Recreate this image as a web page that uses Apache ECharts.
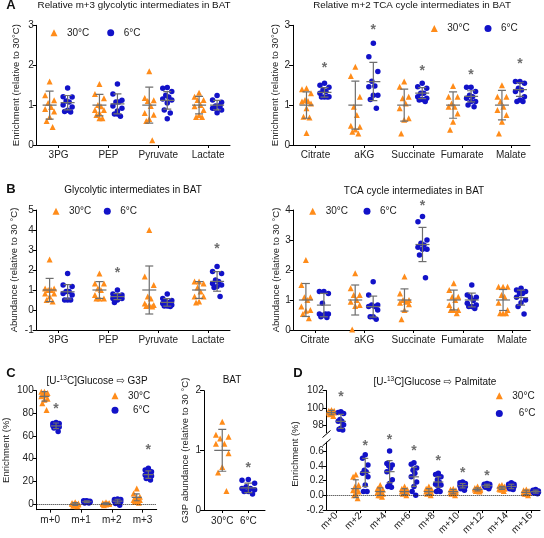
<!DOCTYPE html>
<html><head><meta charset="utf-8">
<script src="https://cdn.jsdelivr.net/npm/echarts@6/dist/echarts.min.js"></script>
<style>html,body{margin:0;padding:0;background:#fff}#c{width:544px;height:538px}</style>
</head><body><div id="c"></div>
<script>
// ---------------- DATA ----------------
const legWarm = '30°C', legCold = '6°C';

const catsA1 = ['3PG','PEP','Pyruvate','Lactate'];
const a1Warm = [
 [1.59,1.25,1.12,1.05,0.95,0.90,0.84,0.70,0.60,0.45],
 [1.53,1.28,1.17,1.00,0.97,0.88,0.88,0.80,0.75,0.67,0.67],
 [1.85,1.18,1.12,1.10,0.98,0.80,0.76,0.65,0.60,0.12],
 [1.31,1.21,1.13,1.13,1.00,0.97,0.88,0.75,0.70,0.70]
];
const a1Cold = [
 [1.43,1.21,1.20,1.10,1.08,1.00,0.95,0.87,0.84,0.83],
 [1.53,1.28,1.12,1.08,1.08,0.98,0.92,0.85,0.78,0.72,0.78],
 [1.44,1.42,1.34,1.25,1.20,1.15,1.13,1.05,0.88,0.80,0.66],
 [1.24,1.13,1.07,0.98,0.98,0.92,0.88,0.81,0.92,0.98]
];
const a1MeanW = [1,1,1,1], a1SdW = [0.35,0.27,0.45,0.22];
const a1MeanC = [1.06,1.03,1.12,1.0], a1SdC = [0.18,0.25,0.22,0.12];
const a1Star = [null,null,null,null];

const catsA2 = ['Citrate','aKG','Succinate','Fumarate','Malate'];
const a2Warm = [
 [1.42,1.40,1.30,1.13,1.10,1.09,1.04,0.92,0.71,0.69,0.30],
 [1.96,1.73,1.21,0.96,0.75,0.48,0.46,0.39,0.33,0.29],
 [1.59,1.46,1.21,1.17,1.04,0.92,0.67,0.63,0.29],
 [1.48,1.21,1.21,1.04,0.96,0.96,0.79,0.58,0.38],
 [1.50,1.21,1.21,1.09,0.96,0.88,0.75,0.58,0.29]
];
const a2Cold = [
 [1.55,1.50,1.45,1.38,1.34,1.30,1.21,1.20,1.20,1.20],
 [2.55,2.21,1.84,1.60,1.48,1.46,1.25,1.25,1.14,0.92],
 [1.55,1.46,1.42,1.30,1.30,1.21,1.17,1.14,1.13,1.09],
 [1.45,1.45,1.34,1.25,1.21,1.17,1.09,1.09,1.00,0.96],
 [1.59,1.59,1.55,1.42,1.38,1.34,1.21,1.13,1.09,1.09]
];
const a2MeanW = [1,1,1,1,1], a2SdW = [0.33,0.60,0.40,0.33,0.37];
const a2MeanC = [1.32,1.59,1.30,1.22,1.39], a2SdC = [0.12,0.48,0.14,0.14,0.17];
const a2Star = [2.0,2.95,1.92,1.82,2.09];

const catsB1 = ['3PG','PEP','Pyruvate','Lactate'];
const b1Warm = [
 [2.53,1.08,1.08,1.00,1.00,0.83,0.83,0.67,0.50,0.42],
 [1.83,1.33,1.33,1.08,1.00,0.75,0.58,0.58,0.58],
 [4.00,1.67,1.25,0.67,0.58,0.33,0.25,0.25,0.20,0.17],
 [1.42,1.42,1.33,1.13,0.92,0.67,0.67,0.42,0.37]
];
const b1Cold = [
 [1.83,1.25,1.17,0.92,0.92,0.83,0.75,0.50,0.50,0.50],
 [1.00,0.80,0.75,0.70,0.67,0.58,0.58,0.50,0.37],
 [0.80,0.58,0.47,0.42,0.37,0.33,0.25,0.20,0.20,0.17],
 [2.17,1.92,1.83,1.50,1.42,1.33,1.25,1.17,1.13,0.67]
];
const b1MeanW = [1,1,1,1], b1SdW = [0.58,0.42,1.2,0.42];
const b1MeanC = [0.91,0.67,0.38,1.43], b1SdC = [0.36,0.15,0.19,0.49];
const b1Star = [null,2.0,null,3.17];

const catsB2 = ['Citrate','aKG','Succinate','Fumarate','Malate'];
const b2Warm = [
 [2.33,1.50,1.09,1.09,1.00,0.78,0.67,0.64,0.53,0.39],
 [1.89,1.39,1.17,1.17,1.00,0.94,0.83,0.80,0.02],
 [1.78,1.22,1.00,1.00,0.94,0.91,0.86,0.67,0.36],
 [1.56,1.33,1.11,1.11,1.00,0.83,0.67,0.67,0.67,0.56],
 [1.44,1.44,1.44,1.17,1.11,0.91,0.67,0.56,0.56,0.56]
];
const b2Cold = [
 [1.28,1.28,1.22,0.89,0.53,0.53,0.53,0.50,0.44,0.42],
 [1.61,1.17,0.83,0.83,0.78,0.78,0.67,0.44,0.44,0.36],
 [3.78,3.61,3.00,2.89,2.83,2.76,2.69,2.69,2.50,1.74],
 [1.50,1.17,1.09,1.09,0.98,0.89,0.83,0.78,0.78,0.72],
 [1.39,1.33,1.28,1.22,1.22,1.09,1.00,0.91,0.78,0.53]
];
const b2MeanW = [1,1,1,1,1], b2SdW = [0.55,0.50,0.37,0.33,0.35];
const b2MeanC = [0.83,0.78,2.85,1.0,1.08], b2SdC = [0.39,0.35,0.57,0.23,0.25];
const b2Star = [null,null,4.24,null,null];

const catsC1 = ['m+0','m+1','m+2','m+3'];
const c1Warm = [
 [99,99,98,97,96,95,93,92,89,83],
 [1.5,1,0.5,0.5,0,0,-0.5,-1,-1.5,-2],
 [1.5,1,1,0.5,0.5,0,0,-0.5,-1,0],
 [13.8,9.4,6.5,5,3.5,3.5,3.5,3,2,1.2]
];
const c1Cold = [
 [72,71,71,70.5,70,69,68,68,67,64],
 [3,3,2.5,2.5,2,2,1.5,1.5,1,1],
 [4.5,4,4,3.5,3,2.5,2,1.5,0.5,-1],
 [31.5,30,28.5,28.5,27,25.6,24.7,24.7,22.6,21.2]
];
const c1MeanW = [95,0,0.3,5.9], c1SdW = [4.2,1.2,0.8,3];
const c1MeanC = [69,2,2.5,26], c1SdC = [2.5,0.7,1.7,3.3];
const c1Star = [86,null,null,50];
const c1TickVals = [0,20,40,60,80,100];

const catsC2 = ['30°C','6°C'];
const c2Warm = [[1.48,1.26,1.23,1.20,1.11,1.11,0.95,0.72,0.63,0.32],[]];
const c2Cold = [[],[0.51,0.50,0.45,0.39,0.36,0.36,0.34,0.31,0.31,0.27]];
const c2MeanW = [1.0,null], c2SdW = [0.35,null];
const c2MeanC = [null,0.37], c2SdC = [null,0.08];
const c2Star = [null,0.75];

const catsD = ['m+0','m+2','m+4','m+6','m+8','m+10','m+12','m+14','m+16'];
const dWarm = [
 [99.8,99.7,99.7,99.6,99.6,99.5,99.5,99.4,99.3,99.1],
 [0.28,0.25,0.14,0.12,0.09,0.07,0.05,0.02,0.0,-0.04],
 [0.14,0.09,0.08,0.07,0.05,0.04,0.02,0.0,0.0,-0.02],
 [0.12,0.09,0.08,0.07,0.06,0.05,0.04,0.03,0.02,0.0],
 [0.12,0.09,0.08,0.07,0.06,0.05,0.03,0.03,0.02,0.0],
 [0.09,0.08,0.07,0.05,0.05,0.04,0.04,0.03,0.02,0.0],
 [0.12,0.10,0.09,0.09,0.08,0.08,0.07,0.06,0.06,0.05],
 [0.14,0.13,0.12,0.12,0.11,0.09,0.09,0.08,0.08,0.06],
 [0.08,0.07,0.06,0.05,0.05,0.04,0.03,0.02,0.02,0.0]
];
const dCold = [
 [99.6,99.5,99.4,98.7,98.5,98.5,98.1,97.7,97.6,97.5],
 [0.55,0.50,0.41,0.34,0.32,0.30,0.25,0.14,0.05,0.05],
 [0.60,0.43,0.41,0.40,0.37,0.32,0.21,0.16,0.12,0.11],
 [0.44,0.42,0.37,0.34,0.30,0.25,0.18,0.12,0.05,0.0],
 [0.30,0.28,0.25,0.21,0.18,0.15,0.14,0.12,0.05,0.05],
 [0.18,0.17,0.16,0.15,0.14,0.13,0.12,0.12,0.09,0.07],
 [0.16,0.15,0.15,0.14,0.13,0.13,0.12,0.12,0.11,0.09],
 [0.17,0.15,0.15,0.14,0.13,0.12,0.12,0.09,0.09,0.08],
 [0.08,0.07,0.06,0.06,0.05,0.05,0.04,0.03,0.03,0.02]
];
const dMeanW = [99.5,0.09,0.05,0.05,0.05,0.05,0.08,0.1,0.04], dSdW = [0.25,0.12,0.05,0.04,0.04,0.03,0.02,0.02,0.03];
const dMeanC = [98.5,0.31,0.32,0.25,0.18,0.13,0.13,0.12,0.05], dSdC = [0.8,0.19,0.15,0.13,0.07,0.03,0.02,0.03,0.02];
const dStar = [101.6,0.71,0.79,0.64,0.5,0.34,0.3,null,null];
const dUpperTicks = [98,100,102];

// ---------------- STYLE / BUILD ----------------
const ORANGE = '#FF8C1A', BLUE = '#1212C8', GREY = '#6E6E6E';
const FONT = '"Liberation Sans", Arial, "DejaVu Sans", sans-serif';
const JIT = [0,-4.5,4.5,-1.5,1.5,-4.5,4.5,0,-3,3,0];

const option = {animation:false, backgroundColor:'#fff', textStyle:{fontFamily:FONT},
  title:[], legend:[], grid:[], xAxis:[], yAxis:[], series:[], graphic:[]};

function addPanel(c){
  const gi = option.grid.length;
  option.grid.push({left:c.box[0], top:c.box[1], width:c.box[2], height:c.box[3]});
  const idx = c.cats.map((_,i)=>i);
  option.xAxis.push({type:'value', gridIndex:gi, min:c.xr[0], max:c.xr[1], show:c.showX!==false,
    axisLine:{show:true,onZero:false,lineStyle:{color:'#000',width:1}},
    axisTick:{show:true,customValues:idx,length:3,lineStyle:{color:'#000'}},
    axisLabel:{customValues:idx, formatter:v=>c.cats[Math.round(v)], fontSize:10, color:'#222',
      margin:c.xMargin!=null?c.xMargin:5, rotate:c.rotate||0},
    splitLine:{show:false}});
  const ya = {type:'value', gridIndex:gi, min:c.yr[0], max:c.yr[1],
    axisLine:{show:true,onZero:false,lineStyle:{color:'#000',width:1}},
    axisTick:{show:true,length:4,lineStyle:{color:'#000'}},
    axisLabel:{fontSize:10,color:'#222',margin:3, formatter:c.yFmt||(v=>String(v))},
    splitLine:{show:false}};
  if (c.yInt!=null) ya.interval = c.yInt;
  if (c.yTicks){ ya.axisTick.customValues = c.yTicks; ya.axisLabel.customValues = c.yTicks; }
  if (c.yName){ ya.name=c.yName; ya.nameLocation='middle'; ya.nameGap=c.nameGap;
    ya.nameTextStyle={fontSize:9.5,color:'#222'}; }
  option.yAxis.push(ya);

  const groups = [
    {name:legWarm, sym:'triangle', col:ORANGE, vals:c.warm, mean:c.meanW, sd:c.sdW, off:c.offW, size:6},
    {name:legCold, sym:'circle', col:BLUE, vals:c.cold, mean:c.meanC, sd:c.sdC, off:c.offC, size:5.5}
  ];
  groups.forEach((g,k)=>{
    const data=[];
    g.vals.forEach((arr,ci)=>arr.forEach((v,j)=>data.push({value:[ci,v],
      symbolOffset:[g.off + JIT[j%JIT.length]*c.js, 0]})));
    const s = {type:'scatter', name:g.name, xAxisIndex:gi, yAxisIndex:gi, symbol:g.sym, symbolSize:g.size,
      itemStyle:{color:g.col, opacity:1}, data, clip:true, z:2, silent:true};
    if (k===0 && c.zero){ s.markLine={silent:true, symbol:'none', label:{show:false},
      lineStyle:{type:'dotted',color:'#222',width:1}, data:[{yAxis:0}]}; }
    option.series.push(s);
    const ed = g.mean.map((m,ci)=>m==null?null:[ci,m,g.sd[ci]]).filter(Boolean);
    const off=g.off, capW=c.cap, mw=c.meanW2;
    option.series.push({type:'custom', xAxisIndex:gi, yAxisIndex:gi, clip:true, z:5, silent:true,
      data:ed, renderItem:(p,api)=>{
        const x=api.value(0), m=api.value(1), s2=api.value(2);
        const cm=api.coord([x,m]), ct=api.coord([x,m+s2]), cb=api.coord([x,m-s2]);
        const cx=cm[0]+off; const st={stroke:GREY,lineWidth:1.2};
        return {type:'group', children:[
          {type:'line',shape:{x1:cx,y1:ct[1],x2:cx,y2:cb[1]},style:st},
          {type:'line',shape:{x1:cx-capW,y1:ct[1],x2:cx+capW,y2:ct[1]},style:st},
          {type:'line',shape:{x1:cx-capW,y1:cb[1],x2:cx+capW,y2:cb[1]},style:st},
          {type:'line',shape:{x1:cx-mw,y1:cm[1],x2:cx+mw,y2:cm[1]},style:st}
        ]};
      }});
  });
  const span = c.yr[1]-c.yr[0];
  const sd = c.star.map((s,ci)=>(s==null||s<c.yr[0]||s>c.yr[1]+0.2*span)?null:[ci,s]).filter(Boolean);
  const soff = c.offC;
  option.series.push({type:'custom', xAxisIndex:gi, yAxisIndex:gi, clip:false, z:6, silent:true, data:sd,
    renderItem:(p,api)=>{ const q=api.coord([api.value(0),api.value(1)]);
      return {type:'text', x:q[0]+soff, y:q[1]+3, style:{text:'*', fill:GREY, font:'bold 14px '+FONT,
        align:'center', verticalAlign:'middle', textAlign:'center', textVerticalAlign:'middle'}}; }});
}

function addLegend(iconX, iconY, name, icon, textPad){
  option.legend.push({left:iconX-3.5, top:iconY-6.5, itemWidth:7, itemHeight:7, padding:0, itemGap:0,
    selectedMode:false, data:[{name, icon}],
    textStyle:{fontSize:10, color:'#222', padding:[0,0,0,textPad]}});
}
function addTitle(text, cx, cy, size, bold, rich){
  option.title.push({text, left:cx, top:cy-size*0.6, textAlign:'center', padding:0,
    textStyle:{fontSize:size, fontWeight:bold?'bold':'normal', color:'#111', rich:rich||{}}});
}
const supRich = {sup:{fontSize:6.5, padding:[0,0,6,0], color:'#111'}};

// Panel A
addPanel({box:[36.7,25.3,193.3,119.7], xr:[-0.44,3.44], yr:[0,3], yInt:1, cats:catsA1,
  warm:a1Warm, cold:a1Cold, meanW:a1MeanW, sdW:a1SdW, meanC:a1MeanC, sdC:a1SdC, star:a1Star,
  offW:-9, offC:9, js:1, cap:4, meanW2:7, yName:'Enrichment (relative to 30°C)', nameGap:15.5});
addPanel({box:[293,25.3,237,119.7], xr:[-0.46,4.39], yr:[0,3], yInt:1, cats:catsA2,
  warm:a2Warm, cold:a2Cold, meanW:a2MeanW, sdW:a2SdW, meanC:a2MeanC, sdC:a2SdC, star:a2Star,
  offW:-9, offC:9, js:1, cap:4, meanW2:7, yName:'Enrichment (relative to 30°C)', nameGap:11.5});
// Panel B
addPanel({box:[36.7,210,193.3,120], xr:[-0.44,3.44], yr:[-1,5], yInt:1, cats:catsB1,
  warm:b1Warm, cold:b1Cold, meanW:b1MeanW, sdW:b1SdW, meanC:b1MeanC, sdC:b1SdC, star:b1Star,
  offW:-9, offC:9, js:1, cap:4, meanW2:7, yName:'Abundance (relative to 30 °C)', nameGap:17});
addPanel({box:[293.7,210,236.6,120], xr:[-0.43,4.37], yr:[0,4], yInt:1, cats:catsB2,
  warm:b2Warm, cold:b2Cold, meanW:b2MeanW, sdW:b2SdW, meanC:b2MeanC, sdC:b2SdC, star:b2Star,
  offW:-9, offC:9, js:1, cap:4, meanW2:7, yName:'Abundance (relative to 30 °C)', nameGap:12});
// Panel C
addPanel({box:[36.7,390.7,120,119], xr:[-0.44,3.46], yr:[-5,100], yTicks:c1TickVals, cats:catsC1,
  warm:c1Warm, cold:c1Cold, meanW:c1MeanW, sdW:c1SdW, meanC:c1MeanC, sdC:c1SdC, star:c1Star,
  offW:-5.8, offC:5.8, js:0.7, cap:3, meanW2:5, yName:'Enrichment (%)', nameGap:25.5, zero:true, xMargin:6});
addPanel({box:[204,390.7,61,119.3], xr:[-0.7,1.64], yr:[0,2], yInt:1, cats:catsC2,
  warm:c2Warm, cold:c2Cold, meanW:c2MeanW, sdW:c2SdW, meanC:c2MeanC, sdC:c2SdC, star:c2Star,
  offW:0, offC:0, js:1.4, cap:4, meanW2:8, yName:'G3P abundance (relative to 30 °C)', nameGap:13.5, xMargin:6});
// Panel D (broken axis: two grids)
addPanel({box:[326.7,390.7,213.3,42], xr:[-0.39,8.37], yr:[97.2,102], yTicks:dUpperTicks, cats:catsD,
  warm:dWarm, cold:dCold, meanW:dMeanW, sdW:dSdW, meanC:dMeanC, sdC:dSdC, star:dStar,
  offW:-4.7, offC:4.7, js:0.6, cap:3, meanW2:5, showX:false});
addPanel({box:[326.7,442.1,213.3,68], xr:[-0.39,8.37], yr:[-0.2,0.72], yInt:0.2, cats:catsD,
  warm:dWarm, cold:dCold, meanW:dMeanW, sdW:dSdW, meanC:dMeanC, sdC:dSdC, star:dStar,
  offW:-4.7, offC:4.7, js:0.6, cap:3, meanW2:5, zero:true, rotate:45, xMargin:4, yFmt:v=>v.toFixed(1)});

// legends
addLegend(54,34.3,legWarm,'triangle',4.5); addLegend(110.7,34.3,legCold,'circle',4.5);
addLegend(434.3,30,legWarm,'triangle',4.5); addLegend(488,30,legCold,'circle',4.5);
addLegend(56,212.7,legWarm,'triangle',4.5); addLegend(107.3,212.7,legCold,'circle',4.5);
addLegend(312.7,212.7,legWarm,'triangle',4.5); addLegend(367,212.7,legCold,'circle',4.5);
addLegend(115,397.3,legWarm,'triangle',4.5); addLegend(115,411.7,legCold,'circle',9.5);
addLegend(499.3,397.3,legWarm,'triangle',4.5); addLegend(499.3,415,legCold,'circle',11);

// titles & panel letters
addTitle('A',11,7,13,true); addTitle('B',11,191,13,true); addTitle('C',11,375,13,true); addTitle('D',298,375,13,true);
addTitle('Relative m+3 glycolytic intermediates in BAT',134,6,9.8);
addTitle('Relative m+2 TCA cycle intermediates in BAT',412,6,9.8);
addTitle('Glycolytic intermediates in BAT',133,191,10);
addTitle('TCA cycle intermediates in BAT',414,192,10);
addTitle('[U-{sup|13}C]Glucose ⇨ G3P',97,381,10,false,supRich);
addTitle('BAT',232,381,10);
addTitle('[U-{sup|13}C]Glucose ⇨ Palmitate',435,382,10,false,supRich);

// D shared y-name and axis break marks
option.graphic.push({type:'text', x:295, y:454, rotation:Math.PI/2,
  style:{text:'Enrichment (%)', font:'9.5px '+FONT, fill:'#222', align:'center', verticalAlign:'middle'}});
option.graphic.push({type:'line', shape:{x1:322.5,y1:437.5,x2:330.5,y2:430.5}, style:{stroke:'#000',lineWidth:1}});
option.graphic.push({type:'line', shape:{x1:322.5,y1:446,x2:330.5,y2:439}, style:{stroke:'#000',lineWidth:1}});

const chart = echarts.init(document.getElementById('c'), null, {renderer:'canvas'});
chart.setOption(option);
</script></body></html>
